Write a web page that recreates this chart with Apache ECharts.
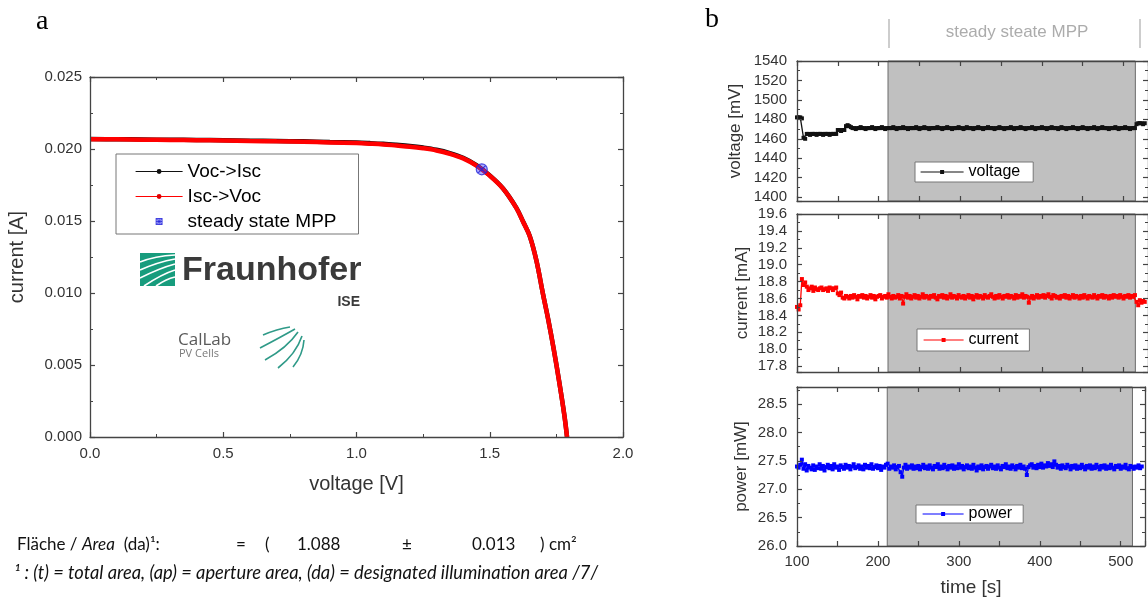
<!DOCTYPE html>
<html>
<head>
<meta charset="utf-8">
<script src="https://cdn.jsdelivr.net/npm/echarts@6/dist/echarts.min.js"></script>
<style>
html,body{margin:0;padding:0;background:#fff;}
#chart{width:1148px;height:599px;}
</style>
</head>
<body>
<div id="chart"></div>
<script>
// ---------- Panel a: I-V curve ----------
const ivVoltage = [0, 0.1, 0.2, 0.3, 0.4, 0.5, 0.6, 0.7, 0.8, 0.9, 1.0, 1.05, 1.1, 1.15, 1.2, 1.25, 1.3, 1.35, 1.4, 1.45, 1.5, 1.55, 1.6, 1.625, 1.65, 1.675, 1.7, 1.72, 1.74, 1.76, 1.78, 1.79];
const ivCurrentVocIsc = [0.02069, 0.02068, 0.02066, 0.02064, 0.02063, 0.02061, 0.02058, 0.02056, 0.02053, 0.02049, 0.02045, 0.02041, 0.02036, 0.02029, 0.02021, 0.02010, 0.01995, 0.01972, 0.01939, 0.01888, 0.01817, 0.01726, 0.01591, 0.01496, 0.01396, 0.01226, 0.00991, 0.00811, 0.00611, 0.00391, 0.00151, 0.0];
const ivCurrentIscVoc = [0.02068, 0.02067, 0.02065, 0.02063, 0.02061, 0.02059, 0.02056, 0.02053, 0.02050, 0.02046, 0.02041, 0.02037, 0.02032, 0.02024, 0.02016, 0.02005, 0.01990, 0.01967, 0.01935, 0.01885, 0.01815, 0.01725, 0.01590, 0.01495, 0.01395, 0.01225, 0.00990, 0.00810, 0.00610, 0.00390, 0.00150, 0.0];
const mppVoltage = [1.47];
const mppCurrent = [0.01859];

// ---------- Panel b: time series ----------
const timeS = [100,102,104,106,108,110,112,114,116,118,120,122,124,126,128,130,132,134,136,138,
140,142,144,146,148,150,152,154,156,158,160,162,164,166,168,170,172,174,176,178,
180,182,184,186,188,190,192,194,196,198,200,202,204,206,208,210,212,214,216,218,
220,222,224,226,228,230,232,234,236,238,240,242,244,246,248,250,252,254,256,258,
260,262,264,266,268,270,272,274,276,278,280,282,284,286,288,290,292,294,296,298,
300,302,304,306,308,310,312,314,316,318,320,322,324,326,328,330,332,334,336,338,
340,342,344,346,348,350,352,354,356,358,360,362,364,366,368,370,372,374,376,378,
380,382,384,386,388,390,392,394,396,398,400,402,404,406,408,410,412,414,416,418,
420,422,424,426,428,430,432,434,436,438,440,442,444,446,448,450,452,454,456,458,
460,462,464,466,468,470,472,474,476,478,480,482,484,486,488,490,492,494,496,498,
500,502,504,506,508,510,512,514,516,518,520,522,524,526];

const voltageMV = [1482,1482,1482,1481,1461,1460,
1465,1465,1464,1465,1465,1465,1464,1465,1465,1465,1464,1465,1465,1465,1464,1465,1465,1465,1465,
1469,1469,1468,1469,1469,
1473,1474,1473,1472,
1471,1471,1470,1471,1471,1472,1471,1471,1470,1471,
1471,1471,1472,1471,1470,1471,1471,1471,1472,1471,
1470,1471,1471,1471,1471,1472,1471,1470,1471,1471,
1471,1472,1471,1471,1470,1471,1471,1471,1471,1472,
1471,1470,1471,1471,1472,1471,1471,1470,1471,1471,
1471,1471,1472,1471,1471,1470,1471,1471,1472,1471,
1471,1470,1471,1471,1471,1472,1471,1471,1470,1471,
1472,1471,1471,1471,1470,1471,1471,1472,1471,1471,
1470,1471,1471,1472,1471,1471,1471,1470,1471,1471,
1472,1471,1471,1470,1471,1471,1471,1472,1471,1470,
1471,1471,1471,1472,1471,1471,1470,1471,1471,1471,
1472,1471,1470,1471,1471,1471,1472,1471,1471,1470,
1471,1471,1472,1471,1471,1471,1470,1471,1472,1471,
1471,1470,1471,1471,1471,1472,1471,1471,1470,1471,
1471,1472,1471,1471,1470,1471,1471,1471,1472,1471,
1470,1471,1471,1472,1471,1471,1471,1470,1471,1471,
1471,1472,1471,1470,1471,1471,1471,1472,1471,1471,
1470,1471,1471,1471,
1475,1476,1476,1476,1475,1476];

const currentMA = [18.50,18.47,18.52,
18.83,18.76,18.79,18.74,18.70,
18.72,18.74,18.69,18.73,18.71,18.70,18.72,18.73,18.70,18.71,18.72,18.69,18.73,18.72,18.70,18.72,18.73,
18.66,18.64,18.67,18.61,18.60,18.63,
18.62,18.60,18.63,18.61,18.64,18.62,18.59,18.63,18.62,18.64,
18.61,18.63,18.60,18.62,18.64,18.61,18.63,18.59,18.62,18.63,
18.64,18.60,18.62,18.63,18.61,18.65,18.62,18.60,18.63,18.61,
18.62,18.64,18.60,18.63,18.54,18.62,18.65,18.61,18.63,18.60,
18.62,18.64,18.61,18.63,18.60,18.62,18.65,18.61,18.63,18.62,
18.60,18.63,18.62,18.64,18.61,18.59,18.63,18.62,18.64,18.61,
18.63,18.60,18.62,18.65,18.61,18.63,18.62,18.60,18.64,18.62,
18.61,18.63,18.60,18.62,18.64,18.61,18.63,18.59,18.62,18.64,
18.61,18.63,18.62,18.60,18.64,18.62,18.61,18.63,18.65,18.62,
18.60,18.63,18.61,18.64,18.62,18.60,18.63,18.62,18.64,18.61,
18.63,18.62,18.60,18.64,18.61,18.63,18.62,18.65,18.61,18.63,
18.62,18.55,18.61,18.63,18.60,18.62,18.64,18.61,18.63,18.62,
18.64,18.61,18.63,18.65,18.62,18.60,18.64,18.63,18.61,18.62,
18.60,18.63,18.62,18.64,18.61,18.63,18.60,18.62,18.64,18.61,
18.63,18.62,18.60,18.63,18.61,18.64,18.62,18.60,18.63,18.62,
18.61,18.64,18.62,18.60,18.63,18.62,18.64,18.61,18.63,18.62,
18.60,18.63,18.61,18.64,18.62,18.63,18.61,18.64,18.62,18.60,
18.63,18.62,18.64,18.61,18.63,18.62,18.64,
18.56,18.52,18.58,18.55,18.57,18.56];

const powerMW = [27.40,27.38,27.43,27.52,27.36,27.44,27.33,27.41,27.38,27.35,
27.42,27.34,27.40,27.37,27.44,27.36,27.41,27.33,27.39,27.43,
27.37,27.41,27.35,27.44,27.38,27.40,27.34,27.42,27.39,27.36,
27.43,27.38,27.41,27.35,27.40,27.44,27.37,27.39,27.42,27.36,
27.40,27.35,27.43,27.38,27.41,27.37,27.44,27.36,27.39,27.42,
27.37,27.41,27.34,27.40,27.38,27.43,27.45,27.36,27.40,27.38,
27.42,27.35,27.39,27.41,27.30,27.22,27.38,27.43,27.36,27.40,
27.38,27.42,27.36,27.40,27.37,27.41,27.35,27.39,27.43,27.37,
27.40,27.36,27.42,27.38,27.35,27.41,27.39,27.44,27.36,27.40,
27.37,27.43,27.39,27.35,27.41,27.38,27.42,27.36,27.40,27.37,
27.44,27.38,27.41,27.35,27.39,27.42,27.37,27.40,27.36,27.43,
27.38,27.33,27.40,27.37,27.42,27.35,27.39,27.41,27.36,27.40,
27.43,27.37,27.40,27.36,27.42,27.38,27.35,27.41,27.39,27.44,
27.37,27.40,27.36,27.42,27.39,27.35,27.41,27.38,27.43,27.37,
27.40,27.36,27.25,27.39,27.42,27.44,27.38,27.41,27.37,27.43,
27.39,27.45,27.38,27.42,27.40,27.46,27.41,27.44,27.39,27.49,
27.43,27.38,27.41,27.36,27.42,27.39,27.37,27.43,27.40,27.35,
27.41,27.38,27.42,27.36,27.40,27.37,27.43,27.39,27.35,27.41,
27.38,27.42,27.36,27.40,27.37,27.43,27.39,27.35,27.41,27.38,
27.42,27.36,27.40,27.37,27.43,27.38,27.35,27.41,27.39,27.42,
27.36,27.40,27.38,27.43,27.37,27.35,27.41,27.39,27.36,27.40,
27.38,27.42,27.37,27.40];

const steadyStart = 211.5;
const steadyEnd = 514.5;

// ---------- helpers ----------
const AX = '#444';
const FONT = 'Liberation Sans, Arial, sans-serif';
function frameAxis(extra) {
  return Object.assign({
    type: 'value', z: 10,
    axisLine: { show: true, onZero: false, lineStyle: { color: AX, width: 1.3 } },
    axisTick: { show: true, inside: true, length: 5, lineStyle: { color: AX, width: 1.2 } },
    minorTick: { show: true, splitNumber: 2, length: 3, lineStyle: { color: AX, width: 1 } },
    splitLine: { show: false },
    axisLabel: { show: false }
  }, extra);
}
const pairs = (xs, ys) => xs.map((x, i) => [x, ys[i]]);

const ivX = { min: 0, max: 2, interval: 0.5 };
const ivY = { min: 0, max: 0.025, interval: 0.005 };
const tX = { min: 100, max: 530, interval: 50, minorTick: { show: false } };
const vY = { min: 1396, max: 1540, splitNumber: 7 };
const cY = { min: 17.73, max: 19.6, splitNumber: 9 };
const pY = { min: 26.0, max: 28.8, interval: 0.5 };

const labStyle = { show: true, color: '#333', fontFamily: FONT, fontSize: 15 };

// axis index layout: 0/1 = panel a (bottom/top, left/right); 2/3 voltage; 4/5 current; 6/7 power
const xAxis = [
  frameAxis(Object.assign({ gridIndex: 0, position: 'bottom',
    axisLabel: Object.assign({}, labStyle, { margin: 9, formatter: v => v.toFixed(1) }),
    name: 'voltage [V]', nameLocation: 'middle', nameGap: 37,
    nameTextStyle: { color: '#333', fontFamily: FONT, fontSize: 20 } }, ivX)),
  frameAxis(Object.assign({ gridIndex: 0, position: 'top' }, ivX)),
  frameAxis(Object.assign({ gridIndex: 1, position: 'bottom' }, tX)),
  frameAxis(Object.assign({ gridIndex: 1, position: 'top' }, tX)),
  frameAxis(Object.assign({ gridIndex: 2, position: 'bottom' }, tX)),
  frameAxis(Object.assign({ gridIndex: 2, position: 'top' }, tX)),
  frameAxis(Object.assign({ gridIndex: 3, position: 'bottom',
    axisLabel: Object.assign({}, labStyle, { margin: 8, formatter: v => (v % 100 === 0 ? String(v) : '') }),
    name: 'time [s]', nameLocation: 'middle', nameGap: 32,
    nameTextStyle: { color: '#333', fontFamily: FONT, fontSize: 19 } }, tX)),
  frameAxis(Object.assign({ gridIndex: 3, position: 'top' }, tX))
];

const yAxis = [
  frameAxis(Object.assign({ gridIndex: 0, position: 'left',
    axisLabel: Object.assign({}, labStyle, { margin: 8, formatter: v => v.toFixed(3) }),
    name: 'current [A]', nameLocation: 'middle', nameGap: 63,
    nameTextStyle: { color: '#333', fontFamily: FONT, fontSize: 20 } }, ivY)),
  frameAxis(Object.assign({ gridIndex: 0, position: 'right' }, ivY)),
  frameAxis(Object.assign({ gridIndex: 1, position: 'left',
    axisLabel: Object.assign({}, labStyle, { margin: 10, showMinLabel: false, formatter: v => String(Math.round(v)) }),
    name: 'voltage [mV]', nameLocation: 'middle', nameGap: 53,
    nameTextStyle: { color: '#333', fontFamily: FONT, fontSize: 17 } }, vY)),
  frameAxis(Object.assign({ gridIndex: 1, position: 'right' }, vY)),
  frameAxis(Object.assign({ gridIndex: 2, position: 'left',
    axisLabel: Object.assign({}, labStyle, { margin: 10, showMinLabel: false, formatter: v => v.toFixed(1) }),
    name: 'current [mA]', nameLocation: 'middle', nameGap: 46,
    nameTextStyle: { color: '#333', fontFamily: FONT, fontSize: 17 } }, cY)),
  frameAxis(Object.assign({ gridIndex: 2, position: 'right' }, cY)),
  frameAxis(Object.assign({ gridIndex: 3, position: 'left',
    axisLabel: Object.assign({}, labStyle, { margin: 10, showMaxLabel: false, formatter: v => v.toFixed(1) }),
    name: 'power [mW]', nameLocation: 'middle', nameGap: 47,
    nameTextStyle: { color: '#333', fontFamily: FONT, fontSize: 17 } }, pY)),
  frameAxis(Object.assign({ gridIndex: 3, position: 'right' }, pY))
];

function shade(ax) {
  return {
    type: 'line', xAxisIndex: ax, yAxisIndex: ax, data: [], z: 1, silent: true,
    markArea: { silent: true, itemStyle: { color: '#c0c0c0', borderColor: '#6a6a6a', borderWidth: 1 },
      data: [[{ xAxis: steadyStart }, { xAxis: steadyEnd }]] }
  };
}
function tsSeries(name, ax, ys, color) {
  return {
    name, type: 'line', xAxisIndex: ax, yAxisIndex: ax, z: 3,
    data: pairs(timeS, ys), symbol: 'rect', symbolSize: 4, showSymbol: true,
    lineStyle: { color, width: 1.3 }, itemStyle: { color }, animation: false
  };
}

const legendBase = {
  orient: 'vertical', backgroundColor: '#fff', borderColor: '#777', borderWidth: 1,
  borderRadius: 0, itemGap: 6, textStyle: { color: '#000', fontFamily: FONT },
  lineStyle: { width: 1.2 }, selectedMode: false
};
const mppIcon = 'path://M0,0L10,0L10,10L0,10ZM0,0L10,10M10,0L0,10M5,0L5,10M0,5L10,5';

const option = {
  animation: false,
  backgroundColor: '#fff',
  grid: [
    { left: 90, top: 77, width: 533, height: 360 },
    { left: 797, top: 61, width: 355, height: 140 },
    { left: 797, top: 214, width: 355, height: 158 },
    { left: 797, top: 387, width: 355, height: 159 }
  ],
  xAxis, yAxis,
  legend: [
    Object.assign({}, legendBase, { left: 116, top: 154, padding: [8, 22, 3, 19], itemGap: 6, itemWidth: 47, itemHeight: 6,
      textStyle: { color: '#000', fontFamily: FONT, fontSize: 19 },
      data: ['Voc->Isc', 'Isc->Voc', { name: 'steady state MPP', icon: mppIcon, itemStyle: { color: 'rgba(60,60,255,0.45)', borderColor: '#2323d8', borderWidth: 1 } }] }),
    Object.assign({}, legendBase, { left: 915, top: 162, padding: [2, 13, 2, 5], itemWidth: 43, itemHeight: 5,
      textStyle: { color: '#000', fontFamily: FONT, fontSize: 16 }, data: ['voltage'] }),
    Object.assign({}, legendBase, { left: 917, top: 329, padding: [3, 11, 3, 6], itemWidth: 40, itemHeight: 5,
      textStyle: { color: '#000', fontFamily: FONT, fontSize: 16 }, data: ['current'] }),
    Object.assign({}, legendBase, { left: 916, top: 505, padding: [1, 11, 1, 6], itemWidth: 41, itemHeight: 5,
      textStyle: { color: '#000', fontFamily: FONT, fontSize: 16 }, data: ['power'] })
  ],
  series: [
    { name: 'Voc->Isc', type: 'line', xAxisIndex: 0, yAxisIndex: 0, z: 2,
      data: pairs(ivVoltage, ivCurrentVocIsc), smooth: 0.35, symbol: 'circle', symbolSize: 4, showSymbol: false,
      lineStyle: { color: '#111', width: 4.5 }, itemStyle: { color: '#111' } },
    { name: 'Isc->Voc', type: 'line', xAxisIndex: 0, yAxisIndex: 0, z: 3,
      data: pairs(ivVoltage, ivCurrentIscVoc), smooth: 0.35, symbol: 'circle', symbolSize: 4, showSymbol: false,
      lineStyle: { color: '#ff0000', width: 4.5 }, itemStyle: { color: '#e00000' } },
    { name: 'steady state MPP', type: 'scatter', xAxisIndex: 0, yAxisIndex: 0, z: 4,
      data: pairs(mppVoltage, mppCurrent),
      symbol: 'path://M10,5A5,5,0,1,1,0,5A5,5,0,1,1,10,5ZM1.5,1.5L8.5,8.5M8.5,1.5L1.5,8.5',
      symbolSize: 11,
      itemStyle: { color: 'rgba(70,70,255,0.55)', borderColor: '#2323d8', borderWidth: 1.2 } },
    shade(2), shade(4), shade(6),
    tsSeries('voltage', 2, voltageMV, '#111111'),
    tsSeries('current', 4, currentMA, '#ff0000'),
    tsSeries('power', 6, powerMW, '#0000ff')
  ],
  graphic: [
    // panel letters
    { type: 'text', style: { text: 'a', x: 36, y: 8, font: '28px "Liberation Serif", serif', fill: '#000' } },
    { type: 'text', style: { text: 'b', x: 705, y: 6, font: '28px "Liberation Serif", serif', fill: '#000' } },
    // header for panel b
    { type: 'text', style: { text: 'steady steate MPP', x: 1017, y: 32, align: 'center', verticalAlign: 'middle',
        textAlign: 'center', textVerticalAlign: 'middle', font: '17px "Liberation Sans", Arial, sans-serif', fill: '#acacac' } },
    { type: 'line', shape: { x1: 889, y1: 19, x2: 889, y2: 48 }, style: { stroke: '#bdbdbd', lineWidth: 1.5 } },
    { type: 'line', shape: { x1: 1140, y1: 19, x2: 1140, y2: 48 }, style: { stroke: '#bdbdbd', lineWidth: 1.5 } },
    // Fraunhofer logo
    { type: 'rect', shape: { x: 140, y: 253, width: 35, height: 33 }, style: { fill: '#179c7d' }, z: 5 },
    { type: 'bezierCurve', shape: { x1: 140, y1: 262, x2: 175, y2: 255, cpx1: 155, cpy1: 256 }, style: { stroke: '#fff', lineWidth: 1.6, fill: null }, z: 6 },
    { type: 'bezierCurve', shape: { x1: 140, y1: 270, x2: 175, y2: 259, cpx1: 158, cpy1: 262 }, style: { stroke: '#fff', lineWidth: 1.6, fill: null }, z: 6 },
    { type: 'bezierCurve', shape: { x1: 140, y1: 278, x2: 175, y2: 264, cpx1: 160, cpy1: 268 }, style: { stroke: '#fff', lineWidth: 1.6, fill: null }, z: 6 },
    { type: 'bezierCurve', shape: { x1: 144, y1: 286, x2: 175, y2: 270, cpx1: 162, cpy1: 274 }, style: { stroke: '#fff', lineWidth: 1.6, fill: null }, z: 6 },
    { type: 'bezierCurve', shape: { x1: 156, y1: 286, x2: 175, y2: 277, cpx1: 166, cpy1: 279 }, style: { stroke: '#fff', lineWidth: 1.6, fill: null }, z: 6 },
    { type: 'text', style: { text: 'Fraunhofer', x: 182, y: 271, verticalAlign: 'middle', textVerticalAlign: 'middle',
        font: 'bold 34px "Liberation Sans", Arial, sans-serif', fill: '#3a3a3a' } },
    { type: 'text', style: { text: 'ISE', x: 360, y: 302, align: 'right', textAlign: 'right', verticalAlign: 'middle', textVerticalAlign: 'middle',
        font: 'bold 14px "Liberation Sans", Arial, sans-serif', fill: '#3a3a3a' } },
    // CalLab logo
    { type: 'text', style: { text: 'CalLab', x: 178, y: 340, verticalAlign: 'middle', textVerticalAlign: 'middle',
        font: '17px "Open Sans", sans-serif', fill: '#5a5a5a' } },
    { type: 'text', style: { text: 'PV Cells', x: 179, y: 354, verticalAlign: 'middle', textVerticalAlign: 'middle',
        font: '11px "Open Sans", sans-serif', fill: '#7a7a7a' } },
    { type: 'bezierCurve', shape: { x1: 263, y1: 335, x2: 290, y2: 327, cpx1: 277, cpy1: 329 }, style: { stroke: '#2f9a88', lineWidth: 1.6, fill: null } },
    { type: 'bezierCurve', shape: { x1: 260, y1: 348, x2: 295, y2: 329, cpx1: 281, cpy1: 337 }, style: { stroke: '#2f9a88', lineWidth: 1.6, fill: null } },
    { type: 'bezierCurve', shape: { x1: 265, y1: 360, x2: 298, y2: 332, cpx1: 287, cpy1: 348 }, style: { stroke: '#2f9a88', lineWidth: 1.6, fill: null } },
    { type: 'bezierCurve', shape: { x1: 278, y1: 368, x2: 302, y2: 336, cpx1: 296, cpy1: 354 }, style: { stroke: '#2f9a88', lineWidth: 1.6, fill: null } },
    { type: 'bezierCurve', shape: { x1: 293, y1: 367, x2: 304, y2: 340, cpx1: 303, cpy1: 355 }, style: { stroke: '#2f9a88', lineWidth: 1.6, fill: null } },
    // footer
    { type: 'text', style: { x: 17, y: 545, verticalAlign: 'middle', textVerticalAlign: 'middle',
        text: '{n|Fläche / }{i|Area}{n|  (da)¹:}',
        rich: { n: { font: '17px Lato, sans-serif', fill: '#111' }, i: { font: 'italic 17px Lato, sans-serif', fill: '#111' } } } },
    { type: 'text', style: { text: '=', x: 236, y: 545, verticalAlign: 'middle', textVerticalAlign: 'middle', font: '17px Lato, sans-serif', fill: '#111' } },
    { type: 'text', style: { text: '(', x: 265, y: 545, verticalAlign: 'middle', textVerticalAlign: 'middle', font: '17px Lato, sans-serif', fill: '#111' } },
    { type: 'text', style: { text: '1.088', x: 297, y: 545, verticalAlign: 'middle', textVerticalAlign: 'middle', font: '17px Lato, sans-serif', fill: '#111' } },
    { type: 'text', style: { text: '±', x: 402, y: 545, verticalAlign: 'middle', textVerticalAlign: 'middle', font: '17px Lato, sans-serif', fill: '#111' } },
    { type: 'text', style: { text: '0.013', x: 472, y: 545, verticalAlign: 'middle', textVerticalAlign: 'middle', font: '17px Lato, sans-serif', fill: '#111' } },
    { type: 'text', style: { text: ') cm²', x: 540, y: 545, verticalAlign: 'middle', textVerticalAlign: 'middle', font: '17px Lato, sans-serif', fill: '#111' } },
    { type: 'text', style: { x: 14, y: 573, verticalAlign: 'middle', textVerticalAlign: 'middle',
        text: '¹ : (t) = total area, (ap) = aperture area, (da) = designated illumination area /7/',
        font: 'italic 18.3px Lato, sans-serif', fill: '#111' } }
  ]
};

const chart = echarts.init(document.getElementById('chart'), null, { renderer: 'canvas' });
chart.setOption(option);
</script>
</body>
</html>
